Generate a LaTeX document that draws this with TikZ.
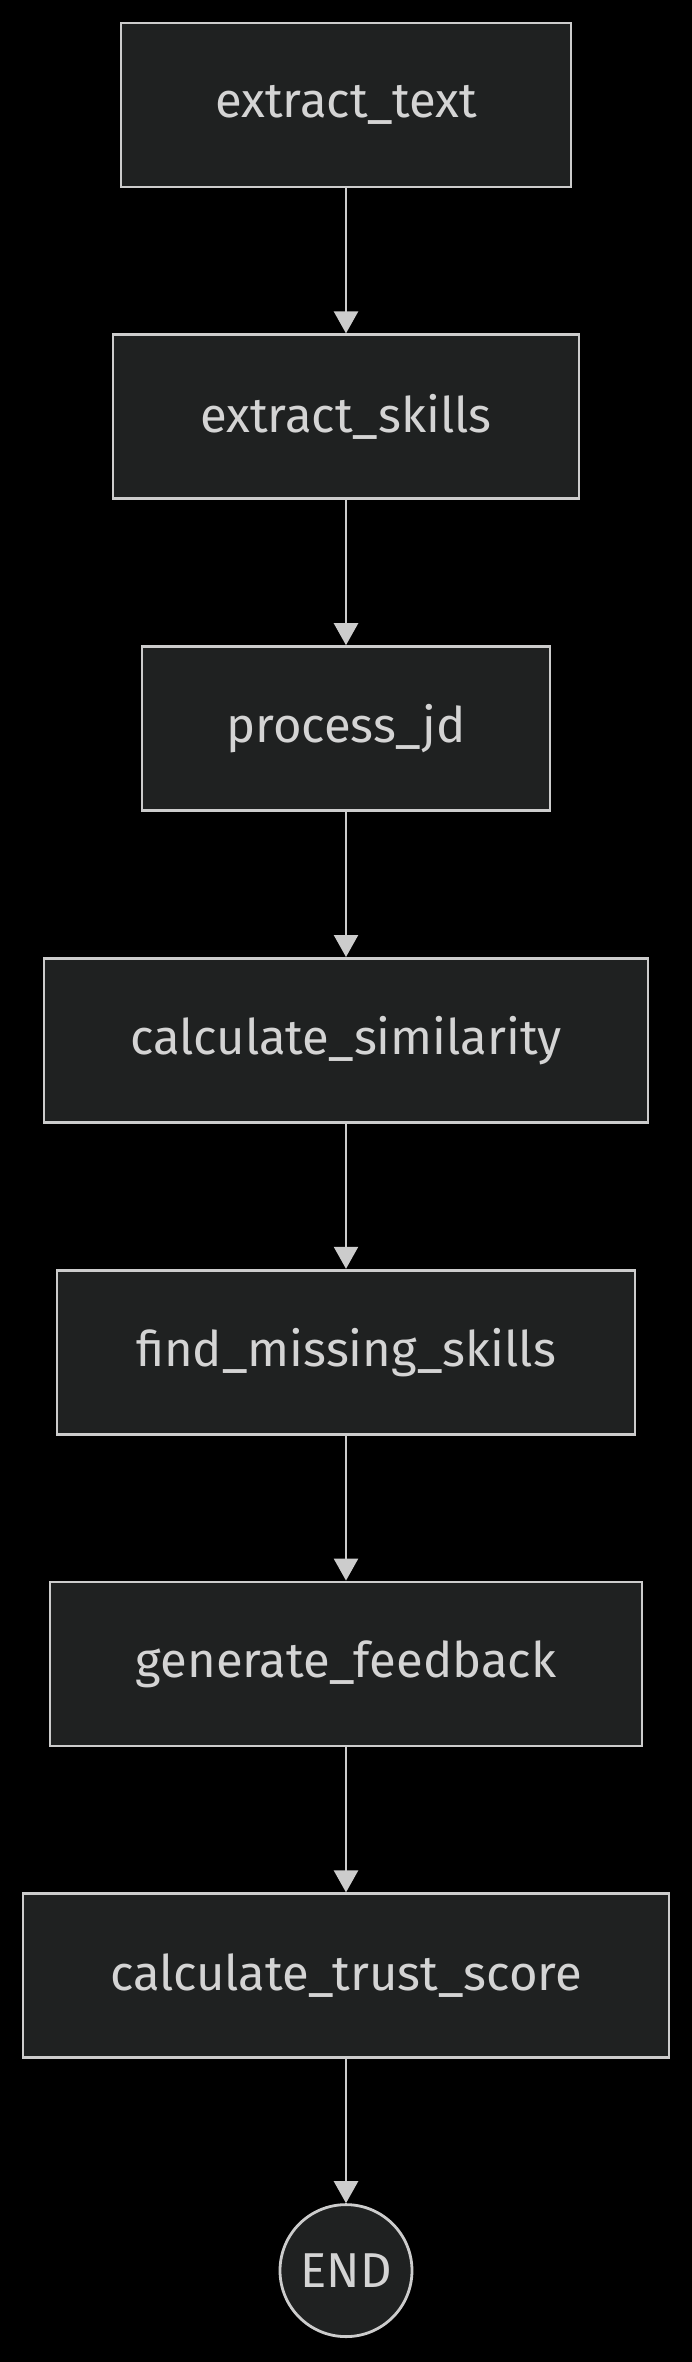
\documentclass[tikz,border=0pt]{standalone}
\usepackage{fontspec}
\setmainfont{Fira Sans}
\usetikzlibrary{arrows.meta,positioning}
\definecolor{nodefill}{HTML}{1F2121}
\definecolor{linegrey}{HTML}{CCCCCC}
\definecolor{labelgrey}{HTML}{D4D4D4}
\tikzset{
    %Define standard arrow tip
    >={Triangle[width=24pt,length=22pt]},
    %Define style for boxes
    stage/.style={
           rectangle,
           draw=linegrey, line width=2.8pt,
           fill=nodefill,
           text=labelgrey,
           minimum height=164pt,
           font=\fontsize{49}{58}\selectfont,
           text centered},
    terminal/.style={
           circle,
           draw=linegrey, line width=2.8pt,
           fill=nodefill,
           text=labelgrey,
           minimum size=132pt,
           inner sep=0pt,
           font=\fontsize{49}{58}\selectfont,
           text centered},
    % Define arrow style
    flow/.style={
           ->,
           draw=linegrey,
           line width=2.4pt}
}
\begin{document}
\begin{tikzpicture}[x=1pt,y=-1pt,node distance=145pt]
\fill[black] (0,0) rectangle (692,2362);
\useasboundingbox (0,0) rectangle (692,2362);
 %nodes
\node[stage, minimum width=450pt] (text) at (346,105) {extract\_text};
\node[stage, minimum width=466pt, below=of text] (skills) {extract\_skills};
\node[stage, minimum width=408pt, below=of skills] (jd) {process\_jd};
\node[stage, minimum width=604pt, below=of jd] (similarity) {calculate\_similarity};
\node[stage, minimum width=578pt, below=of similarity] (missing) {find\_missing\_skills};
\node[stage, minimum width=592pt, below=of missing] (feedback) {generate\_feedback};
\node[stage, minimum width=646pt, below=of feedback] (trust) {calculate\_trust\_score};
\node[terminal, below=144pt of trust] (end) {END};
 %edges
\draw[flow] (text) -- (skills);
\draw[flow] (skills) -- (jd);
\draw[flow] (jd) -- (similarity);
\draw[flow] (similarity) -- (missing);
\draw[flow] (missing) -- (feedback);
\draw[flow] (feedback) -- (trust);
\draw[flow] (trust) -- (end);
\end{tikzpicture}
\end{document}
